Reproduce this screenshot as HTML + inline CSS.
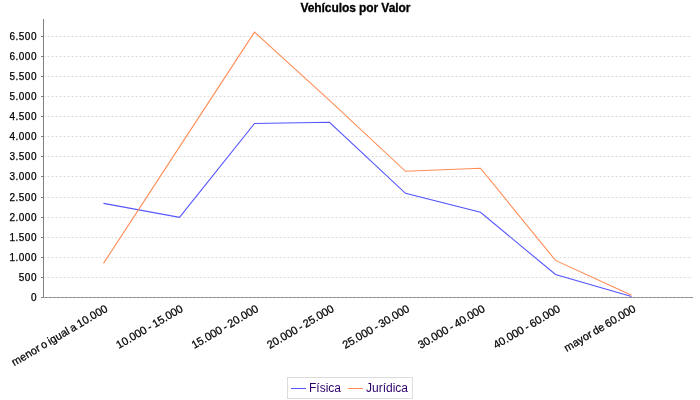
<!DOCTYPE html>
<html><head><meta charset="utf-8"><style>
html,body{margin:0;padding:0;background:#fff;width:700px;height:400px;overflow:hidden}
svg{display:block;will-change:transform}
text{font-family:"Liberation Sans",sans-serif}
.yl{font-size:10px;fill:#000;letter-spacing:0.5px;stroke:#000;stroke-width:0.25px}
.xl{font-size:11px;fill:#000;letter-spacing:0px;word-spacing:-0.8px;stroke:#000;stroke-width:0.25px}
.title{font-size:12px;font-weight:bold;fill:#000;letter-spacing:-0.08px;stroke:#000;stroke-width:0.3px}
.lg{font-size:12px;fill:#2d006c}
</style></head><body>
<svg width="700" height="400" viewBox="0 0 700 400">
<rect width="700" height="400" fill="#fff"/>
<line x1="43.5" y1="277.5" x2="692" y2="277.5" stroke="#dcdcdc" stroke-width="1" stroke-dasharray="2,2"/>
<line x1="43.5" y1="257.5" x2="692" y2="257.5" stroke="#dcdcdc" stroke-width="1" stroke-dasharray="2,2"/>
<line x1="43.5" y1="237.5" x2="692" y2="237.5" stroke="#dcdcdc" stroke-width="1" stroke-dasharray="2,2"/>
<line x1="43.5" y1="217.5" x2="692" y2="217.5" stroke="#dcdcdc" stroke-width="1" stroke-dasharray="2,2"/>
<line x1="43.5" y1="197.5" x2="692" y2="197.5" stroke="#dcdcdc" stroke-width="1" stroke-dasharray="2,2"/>
<line x1="43.5" y1="176.5" x2="692" y2="176.5" stroke="#dcdcdc" stroke-width="1" stroke-dasharray="2,2"/>
<line x1="43.5" y1="156.5" x2="692" y2="156.5" stroke="#dcdcdc" stroke-width="1" stroke-dasharray="2,2"/>
<line x1="43.5" y1="136.5" x2="692" y2="136.5" stroke="#dcdcdc" stroke-width="1" stroke-dasharray="2,2"/>
<line x1="43.5" y1="116.5" x2="692" y2="116.5" stroke="#dcdcdc" stroke-width="1" stroke-dasharray="2,2"/>
<line x1="43.5" y1="96.5" x2="692" y2="96.5" stroke="#dcdcdc" stroke-width="1" stroke-dasharray="2,2"/>
<line x1="43.5" y1="76.5" x2="692" y2="76.5" stroke="#dcdcdc" stroke-width="1" stroke-dasharray="2,2"/>
<line x1="43.5" y1="56.5" x2="692" y2="56.5" stroke="#dcdcdc" stroke-width="1" stroke-dasharray="2,2"/>
<line x1="43.5" y1="36.5" x2="692" y2="36.5" stroke="#dcdcdc" stroke-width="1" stroke-dasharray="2,2"/>
<line x1="41" y1="297.5" x2="43" y2="297.5" stroke="#808080" stroke-width="1"/>
<text x="37" y="301.1" text-anchor="end" class="yl">0</text>
<line x1="41" y1="277.5" x2="43" y2="277.5" stroke="#808080" stroke-width="1"/>
<text x="37" y="281.1" text-anchor="end" class="yl">500</text>
<line x1="41" y1="257.5" x2="43" y2="257.5" stroke="#808080" stroke-width="1"/>
<text x="37" y="261.1" text-anchor="end" class="yl">1.000</text>
<line x1="41" y1="237.5" x2="43" y2="237.5" stroke="#808080" stroke-width="1"/>
<text x="37" y="241.1" text-anchor="end" class="yl">1.500</text>
<line x1="41" y1="217.5" x2="43" y2="217.5" stroke="#808080" stroke-width="1"/>
<text x="37" y="221.1" text-anchor="end" class="yl">2.000</text>
<line x1="41" y1="197.5" x2="43" y2="197.5" stroke="#808080" stroke-width="1"/>
<text x="37" y="201.1" text-anchor="end" class="yl">2.500</text>
<line x1="41" y1="176.5" x2="43" y2="176.5" stroke="#808080" stroke-width="1"/>
<text x="37" y="180.1" text-anchor="end" class="yl">3.000</text>
<line x1="41" y1="156.5" x2="43" y2="156.5" stroke="#808080" stroke-width="1"/>
<text x="37" y="160.1" text-anchor="end" class="yl">3.500</text>
<line x1="41" y1="136.5" x2="43" y2="136.5" stroke="#808080" stroke-width="1"/>
<text x="37" y="140.1" text-anchor="end" class="yl">4.000</text>
<line x1="41" y1="116.5" x2="43" y2="116.5" stroke="#808080" stroke-width="1"/>
<text x="37" y="120.1" text-anchor="end" class="yl">4.500</text>
<line x1="41" y1="96.5" x2="43" y2="96.5" stroke="#808080" stroke-width="1"/>
<text x="37" y="100.1" text-anchor="end" class="yl">5.000</text>
<line x1="41" y1="76.5" x2="43" y2="76.5" stroke="#808080" stroke-width="1"/>
<text x="37" y="80.1" text-anchor="end" class="yl">5.500</text>
<line x1="41" y1="56.5" x2="43" y2="56.5" stroke="#808080" stroke-width="1"/>
<text x="37" y="60.1" text-anchor="end" class="yl">6.000</text>
<line x1="41" y1="36.5" x2="43" y2="36.5" stroke="#808080" stroke-width="1"/>
<text x="37" y="40.1" text-anchor="end" class="yl">6.500</text>
<line x1="43.5" y1="19" x2="43.5" y2="298" stroke="#808080" stroke-width="1"/>
<line x1="43" y1="297.5" x2="693" y2="297.5" stroke="#888" stroke-width="1"/>
<line x1="43.5" y1="297.5" x2="692" y2="297.5" stroke="#c0c0c0" stroke-opacity="0.55" stroke-width="1" stroke-dasharray="2,2"/>
<polyline points="103.50,203.40 179.50,217.40 254.50,123.50 329.50,122.30 405.50,193.30 480.50,212.30 555.50,274.50 631.50,296.50" fill="none" stroke="#5555ff" stroke-width="1.1" stroke-linejoin="miter"/>
<polyline points="103.50,263.40 179.50,146.90 254.50,32.20 329.50,100.40 405.50,171.30 480.50,168.20 555.50,260.40 631.50,295.30" fill="none" stroke="#ff8c55" stroke-width="1.1" stroke-linejoin="miter"/>
<text transform="translate(108.44,310.8) rotate(-30.5)" x="0" y="0" text-anchor="end" class="xl">menor o igual a 10.000</text>
<text transform="translate(183.89,310.8) rotate(-30.5)" x="0" y="0" text-anchor="end" class="xl">10.000 - 15.000</text>
<text transform="translate(259.33,310.8) rotate(-30.5)" x="0" y="0" text-anchor="end" class="xl">15.000 - 20.000</text>
<text transform="translate(334.78,310.8) rotate(-30.5)" x="0" y="0" text-anchor="end" class="xl">20.000 - 25.000</text>
<text transform="translate(410.22,310.8) rotate(-30.5)" x="0" y="0" text-anchor="end" class="xl">25.000 - 30.000</text>
<text transform="translate(485.67,310.8) rotate(-30.5)" x="0" y="0" text-anchor="end" class="xl">30.000 - 40.000</text>
<text transform="translate(561.12,310.8) rotate(-30.5)" x="0" y="0" text-anchor="end" class="xl">40.000 - 60.000</text>
<text transform="translate(636.56,310.8) rotate(-30.5)" x="0" y="0" text-anchor="end" class="xl">mayor de 60.000</text>
<text x="355.4" y="12" text-anchor="middle" class="title">Vehículos por Valor</text>
<rect x="287.5" y="377.5" width="125" height="21" fill="#fff" stroke="#dcdcdc" stroke-width="1"/>
<line x1="291" y1="388.5" x2="306" y2="388.5" stroke="#5555ff" stroke-width="1"/>
<text x="309" y="392" class="lg">Física</text>
<line x1="348" y1="388.5" x2="363" y2="388.5" stroke="#ff8c55" stroke-width="1"/>
<text x="366" y="392" class="lg">Jurídica</text>
</svg>
</body></html>
